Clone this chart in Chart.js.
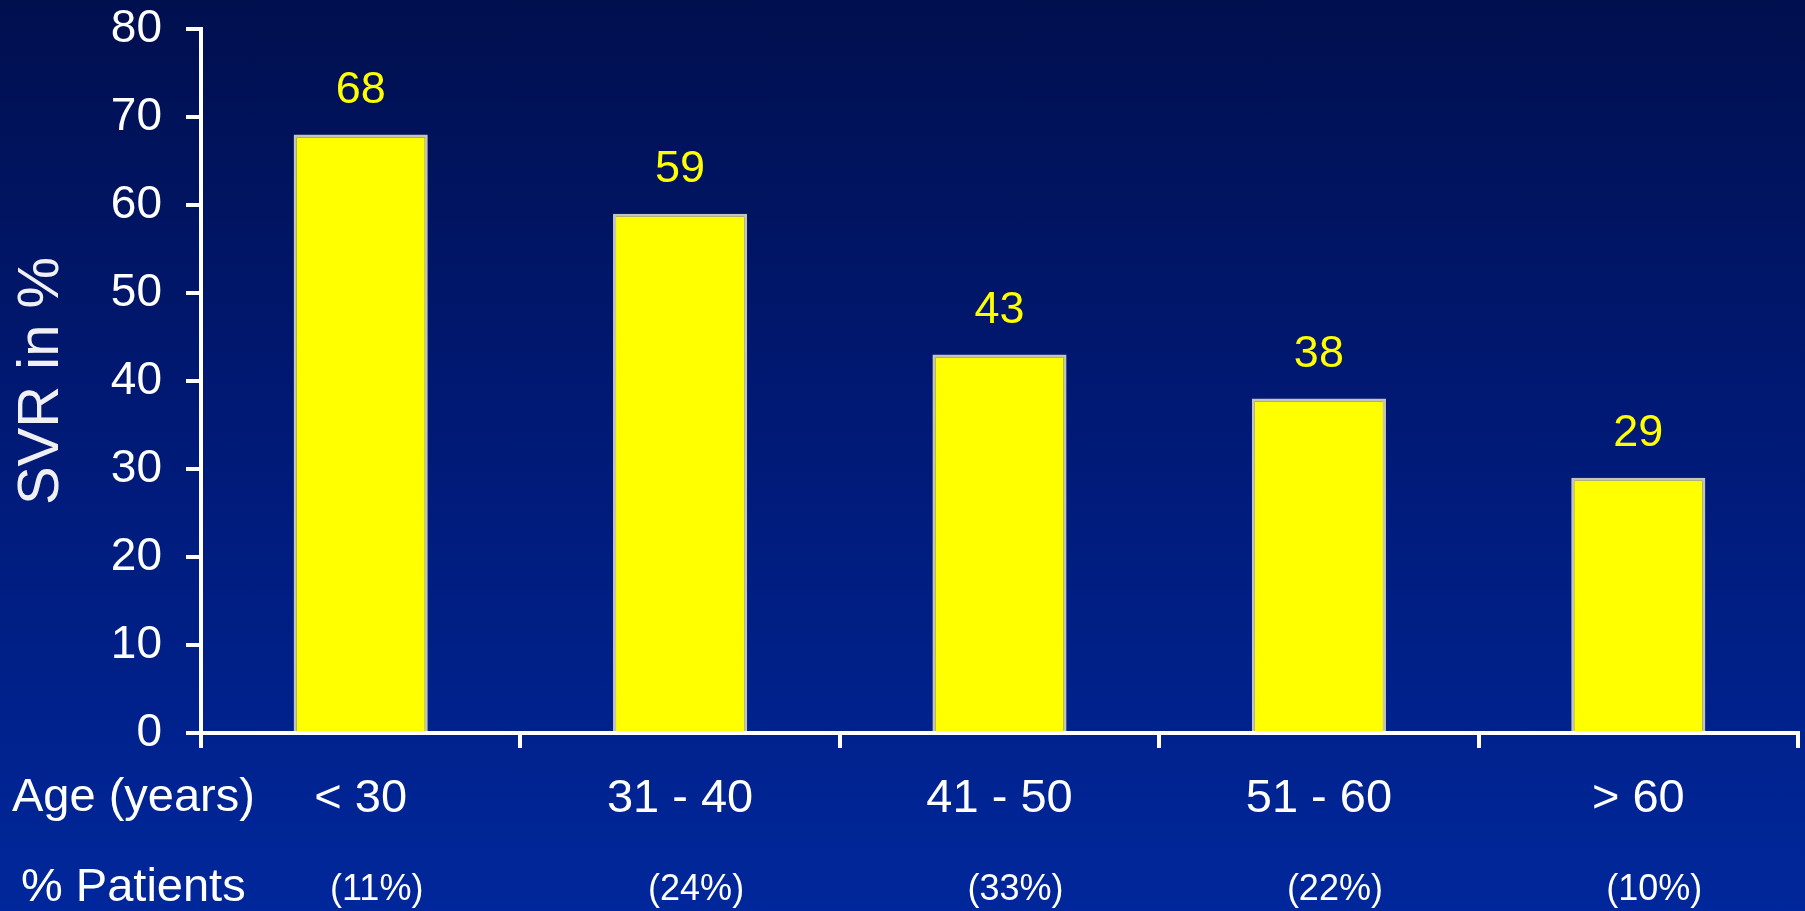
<!DOCTYPE html>
<html lang="en">
<head>
<meta charset="UTF-8">
<title>SVR by Age</title>
<script src="https://cdn.jsdelivr.net/npm/chart.js"></script>
<style>
  html, body { margin: 0; padding: 0; }
  body {
    width: 1805px;
    height: 911px;
    overflow: hidden;
    background: linear-gradient(to bottom, #000f4e 0%, #001a78 50%, #00279b 100%);
  }
  #svrChart { display: block; }
</style>
</head>
<body>
<canvas id="svrChart" width="1805" height="911"></canvas>
<script>
// chart data
const ageGroups = ['< 30', '31 - 40', '41 - 50', '51 - 60', '> 60'];
const svrValues = [68, 59, 43, 38, 29];
const patientShares = ['(11%)', '(24%)', '(33%)', '(22%)', '(10%)'];
const yTicks = [0, 10, 20, 30, 40, 50, 60, 70, 80];

const FONT = '"Liberation Sans", Arial, sans-serif';

// value labels above bars + the two row headers and the % patients row
const extraText = {
    id: 'extraText',
    afterDatasetsDraw(chart) {
        const ctx = chart.ctx;
        const meta = chart.getDatasetMeta(0);
        const x = chart.scales.x;
        ctx.save();
        ctx.textBaseline = 'middle';

        ctx.font = '45px ' + FONT;
        ctx.fillStyle = '#ffff00';
        ctx.textAlign = 'center';
        meta.data.forEach((bar, i) => {
            ctx.fillText(String(svrValues[i]), bar.x, bar.y - 44);
        });

        ctx.fillStyle = '#ffffff';
        ctx.textAlign = 'left';
        ctx.font = '47px ' + FONT;
        ctx.fillText('Age (years)', 12, 798);
        ctx.fillText('% Patients', 21, 888);

        ctx.textAlign = 'center';
        ctx.font = '36px ' + FONT;
        patientShares.forEach((txt, i) => {
            ctx.fillText(txt, x.getPixelForValue(i) + 16, 890);
        });
        ctx.restore();
    }
};

const ctx = document.getElementById('svrChart').getContext('2d');
const svrChart = new Chart(ctx, {
    type: 'bar',
    data: {
        labels: ageGroups,
        datasets: [{
            label: 'SVR in %',
            data: svrValues,
            backgroundColor: '#ffff00',
            borderColor: '#c4c4bc',
            borderWidth: 3,
            barPercentage: 0.42,
            categoryPercentage: 1.0
        }]
    },
    options: {
        responsive: false,
        animation: false,
        layout: { padding: { top: 0, right: 7, left: 0, bottom: 0 } },
        plugins: {
            legend: { display: false },
            tooltip: { enabled: false }
        },
        scales: {
            x: {
                offset: true,
                grid: {
                    offset: true,
                    drawOnChartArea: false,
                    color: '#ffffff',
                    lineWidth: 4,
                    tickLength: 15
                },
                border: { display: true, color: '#ffffff', width: 4 },
                ticks: {
                    color: '#ffffff',
                    font: { family: FONT, size: 47 },
                    padding: 23,
                    maxRotation: 0,
                    autoSkip: false
                },
                afterFit: s => { s.height = 178; }
            },
            y: {
                min: 0,
                max: 80,
                afterBuildTicks: s => { s.ticks = yTicks.map(v => ({ value: v })); },
                grid: {
                    drawOnChartArea: false,
                    color: '#ffffff',
                    lineWidth: 4,
                    tickLength: 15
                },
                border: { display: true, color: '#ffffff', width: 4 },
                ticks: {
                    color: '#ffffff',
                    font: { family: FONT, size: 46 },
                    padding: 24
                },
                title: {
                    display: true,
                    text: 'SVR in %',
                    color: '#f0f0f4',
                    font: { family: FONT, size: 58 },
                    padding: { top: 7, bottom: 0 }
                },
                afterFit: s => {
                    s.width = 201;
                    s.paddingTop = 29;
                    s.paddingBottom = 0;
                }
            }
        }
    },
    plugins: [extraText]
});
</script>
</body>
</html>
